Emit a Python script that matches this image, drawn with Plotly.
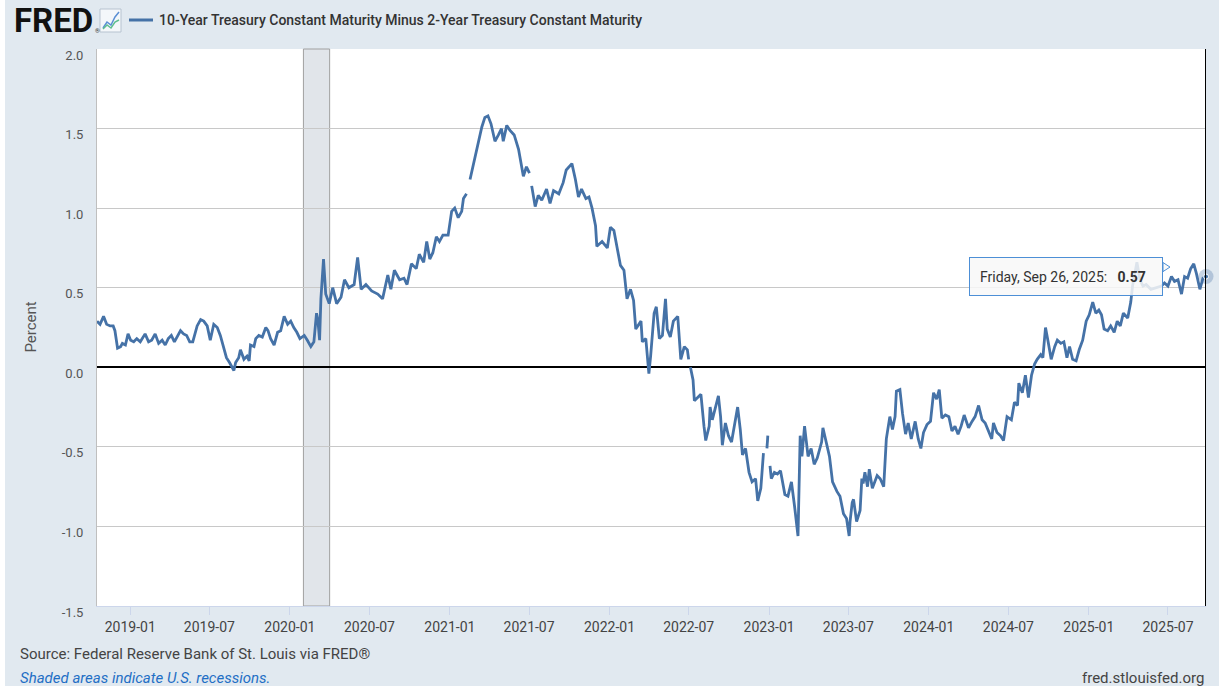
import pandas as pd
import plotly.graph_objects as go

# 10-Year minus 2-Year Treasury spread (T10Y2Y)
dates = [
    # 2018
    "2018-10-17", "2018-10-24", "2018-11-01", "2018-11-08", "2018-11-16", "2018-11-23", "2018-11-27",
    "2018-12-03", "2018-12-10", "2018-12-14", "2018-12-21", "2018-12-27",
    # 2019
    "2019-01-02", "2019-01-09", "2019-01-16", "2019-01-24", "2019-02-04", "2019-02-12", "2019-02-19",
    "2019-02-27", "2019-03-07", "2019-03-15", "2019-03-22", "2019-03-29", "2019-04-05", "2019-04-12",
    "2019-04-26", "2019-05-03", "2019-05-10", "2019-05-17", "2019-05-24", "2019-06-03", "2019-06-11",
    "2019-06-18", "2019-06-26", "2019-07-03", "2019-07-11", "2019-07-19", "2019-07-26", "2019-08-02",
    "2019-08-09", "2019-08-16", "2019-08-26", "2019-08-30", "2019-09-06", "2019-09-10", "2019-09-18",
    "2019-09-25", "2019-09-30", "2019-10-03", "2019-10-11", "2019-10-15", "2019-10-22", "2019-10-30",
    "2019-11-07", "2019-11-12", "2019-11-18", "2019-11-26", "2019-12-04", "2019-12-11", "2019-12-19",
    "2019-12-27",
    # 2020
    "2020-01-03", "2020-01-10", "2020-01-17", "2020-01-24", "2020-02-03", "2020-02-10", "2020-02-18",
    "2020-02-25", "2020-03-02", "2020-03-05", "2020-03-09", "2020-03-12", "2020-03-18", "2020-03-23",
    "2020-03-31", "2020-04-08", "2020-04-17", "2020-04-27", "2020-05-05", "2020-05-15", "2020-05-27",
    "2020-06-04", "2020-06-12", "2020-06-23", "2020-07-06", "2020-07-20", "2020-07-31", "2020-08-12",
    "2020-08-19", "2020-08-27", "2020-09-08", "2020-09-18", "2020-09-25", "2020-10-05", "2020-10-16",
    "2020-10-23", "2020-11-02", "2020-11-09", "2020-11-16", "2020-11-23", "2020-12-01", "2020-12-08",
    "2020-12-16", "2020-12-28",
    # 2021
    "2021-01-05", "2021-01-12", "2021-01-20", "2021-01-28", "2021-02-01", "2021-02-08", "2021-02-15",
    "2021-02-16", "2021-02-24", "2021-03-01", "2021-03-08", "2021-03-15", "2021-03-22", "2021-03-29",
    "2021-04-05", "2021-04-14", "2021-04-22", "2021-04-29", "2021-05-03", "2021-05-11", "2021-05-18",
    "2021-05-28", "2021-06-07", "2021-06-14", "2021-06-18", "2021-06-25", "2021-07-02", "2021-07-05",
    "2021-07-07", "2021-07-15", "2021-07-22", "2021-07-30", "2021-08-10", "2021-08-18", "2021-08-26",
    "2021-09-07", "2021-09-17", "2021-09-24", "2021-10-07", "2021-10-15", "2021-10-22", "2021-10-29",
    "2021-11-08", "2021-11-15", "2021-11-22", "2021-11-30", "2021-12-03", "2021-12-15", "2021-12-27",
    # 2022
    "2022-01-03", "2022-01-11", "2022-01-18", "2022-01-26", "2022-02-03", "2022-02-10", "2022-02-18",
    "2022-02-25", "2022-03-02", "2022-03-07", "2022-03-14", "2022-03-17", "2022-03-25", "2022-04-01",
    "2022-04-05", "2022-04-13", "2022-04-18", "2022-04-25", "2022-05-02", "2022-05-09", "2022-05-13",
    "2022-05-20", "2022-05-27", "2022-06-06", "2022-06-13", "2022-06-21", "2022-06-28", "2022-07-01",
    "2022-07-04", "2022-07-05", "2022-07-11", "2022-07-14", "2022-07-22", "2022-07-29", "2022-08-05",
    "2022-08-09", "2022-08-17", "2022-08-19", "2022-08-24", "2022-09-01", "2022-09-07", "2022-09-12",
    "2022-09-16", "2022-09-23", "2022-09-30", "2022-10-07", "2022-10-13", "2022-10-21", "2022-10-27",
    "2022-11-01", "2022-11-08", "2022-11-16", "2022-11-23", "2022-12-01", "2022-12-06", "2022-12-13",
    "2022-12-19", "2022-12-23", "2022-12-27", "2022-12-29",
    # 2023
    "2023-01-02", "2023-01-03", "2023-01-06", "2023-01-13", "2023-01-20", "2023-01-27", "2023-02-06",
    "2023-02-13", "2023-02-21", "2023-02-28", "2023-03-08", "2023-03-13", "2023-03-17", "2023-03-23",
    "2023-03-31", "2023-04-07", "2023-04-14", "2023-04-21", "2023-05-01", "2023-05-04", "2023-05-12",
    "2023-05-19", "2023-05-26", "2023-06-05", "2023-06-12", "2023-06-20", "2023-06-27", "2023-07-03",
    "2023-07-05", "2023-07-10", "2023-07-13", "2023-07-20", "2023-07-28", "2023-08-01", "2023-08-04",
    "2023-08-08", "2023-08-14", "2023-08-18", "2023-08-25", "2023-09-05", "2023-09-12", "2023-09-20",
    "2023-09-26", "2023-10-04", "2023-10-10", "2023-10-16", "2023-10-19", "2023-10-27", "2023-11-02",
    "2023-11-09", "2023-11-15", "2023-11-22", "2023-12-01", "2023-12-08", "2023-12-14", "2023-12-20",
    "2023-12-28",
    # 2024
    "2024-01-05", "2024-01-12", "2024-01-19", "2024-01-25", "2024-01-31", "2024-02-08", "2024-02-16",
    "2024-02-23", "2024-03-01", "2024-03-08", "2024-03-15", "2024-03-22", "2024-04-01", "2024-04-09",
    "2024-04-16", "2024-04-24", "2024-05-02", "2024-05-09", "2024-05-17", "2024-05-24", "2024-05-28",
    "2024-06-05", "2024-06-13", "2024-06-20", "2024-06-28", "2024-07-08", "2024-07-15", "2024-07-22",
    "2024-07-25", "2024-08-02", "2024-08-09", "2024-08-16", "2024-08-23", "2024-08-30", "2024-09-05",
    "2024-09-13", "2024-09-18", "2024-09-24", "2024-09-30", "2024-10-07", "2024-10-15", "2024-10-21",
    "2024-10-29", "2024-11-05", "2024-11-12", "2024-11-18", "2024-11-25", "2024-12-03", "2024-12-10",
    "2024-12-18", "2024-12-26",
    # 2025
    "2025-01-02", "2025-01-10", "2025-01-17", "2025-01-24", "2025-01-30", "2025-02-05", "2025-02-13",
    "2025-02-20", "2025-02-28", "2025-03-07", "2025-03-14", "2025-03-21", "2025-03-31", "2025-04-07",
    "2025-04-11", "2025-04-21", "2025-04-28", "2025-05-05", "2025-05-12", "2025-05-23", "2025-06-04",
    "2025-06-16", "2025-06-23", "2025-07-01", "2025-07-09", "2025-07-16", "2025-07-24", "2025-08-01",
    "2025-08-08", "2025-08-15", "2025-08-22", "2025-08-29", "2025-09-04", "2025-09-12", "2025-09-19",
    "2025-09-26",
]

spread = [
    # 2018
    0.29, 0.27, 0.32, 0.27, 0.26, 0.26, 0.23,
    0.12, 0.13, 0.15, 0.14, 0.21,
    # 2019
    0.17, 0.16, 0.18, 0.16, 0.21, 0.16, 0.17,
    0.21, 0.15, 0.17, 0.14, 0.18, 0.20, 0.16,
    0.23, 0.21, 0.20, 0.16, 0.16, 0.26, 0.30,
    0.29, 0.26, 0.17, 0.27, 0.25, 0.20, 0.12,
    0.06, 0.03, -0.02, 0.03, 0.06, 0.11, 0.05,
    0.07, 0.04, 0.14, 0.13, 0.18, 0.20, 0.19,
    0.25, 0.23, 0.18, 0.14, 0.22, 0.23, 0.32,
    0.27,
    # 2020
    0.29, 0.25, 0.22, 0.18, 0.20, 0.17, 0.13,
    0.16, 0.34, 0.30, 0.17, 0.43, 0.68, 0.46,
    0.40, 0.50, 0.40, 0.44, 0.55, 0.50, 0.52,
    0.69, 0.49, 0.52, 0.48, 0.46, 0.43, 0.58,
    0.49, 0.61, 0.55, 0.56, 0.52, 0.65, 0.62,
    0.71, 0.66, 0.79, 0.68, 0.72, 0.82, 0.79,
    0.83, 0.83,
    # 2021
    0.98, 1.00, 0.94, 0.98, 1.06, 1.09, None,
    1.18, 1.28, 1.35, 1.42, 1.51, 1.57, 1.58,
    1.53, 1.42, 1.46, 1.50, 1.42, 1.52, 1.49,
    1.46, 1.37, 1.27, 1.20, 1.26, 1.22, None,
    1.14, 1.01, 1.08, 1.05, 1.12, 1.03, 1.11,
    1.09, 1.16, 1.24, 1.28, 1.18, 1.07, 1.12,
    1.06, 1.07, 1.00, 0.89, 0.76, 0.79, 0.75,
    # 2022
    0.88, 0.86, 0.76, 0.64, 0.61, 0.43, 0.49,
    0.42, 0.24, 0.26, 0.29, 0.16, 0.18, -0.04,
    0.07, 0.34, 0.38, 0.18, 0.20, 0.43, 0.24,
    0.19, 0.29, 0.32, 0.05, 0.13, 0.11, 0.05,
    None, 0.00, -0.08, -0.21, -0.19, -0.17, -0.37,
    -0.46, -0.37, -0.25, -0.33, -0.24, -0.18, -0.31,
    -0.49, -0.35, -0.43, -0.47, -0.38, -0.25, -0.39,
    -0.55, -0.51, -0.66, -0.72, -0.70, -0.84, -0.76,
    -0.54, None, -0.51, -0.43,
    # 2023
    None, -0.62, -0.70, -0.66, -0.67, -0.65, -0.80,
    -0.81, -0.72, -0.87, -1.06, -0.43, -0.56, -0.37,
    -0.56, -0.51, -0.61, -0.57, -0.47, -0.38, -0.47,
    -0.56, -0.72, -0.78, -0.81, -0.92, -0.95, -1.06,
    -0.97, -0.85, -0.83, -0.97, -0.90, -0.70, -0.73,
    -0.66, -0.75, -0.64, -0.76, -0.68, -0.70, -0.75,
    -0.45, -0.31, -0.39, -0.31, -0.15, -0.14, -0.29,
    -0.42, -0.35, -0.45, -0.34, -0.45, -0.51, -0.41,
    -0.36,
    # 2024
    -0.34, -0.16, -0.20, -0.14, -0.32, -0.30, -0.31,
    -0.40, -0.37, -0.42, -0.37, -0.30, -0.38, -0.34,
    -0.31, -0.24, -0.33, -0.35, -0.40, -0.45, -0.35,
    -0.41, -0.43, -0.46, -0.31, -0.33, -0.22, -0.24,
    -0.10, -0.16, -0.05, -0.19, -0.05, 0.02, 0.05,
    0.08, 0.06, 0.25, 0.16, 0.05, 0.13, 0.17,
    0.15, 0.16, 0.06, 0.13, 0.05, 0.04, 0.11,
    0.17, 0.29,
    # 2025
    0.33, 0.41, 0.34, 0.36, 0.33, 0.24, 0.23,
    0.26, 0.22, 0.29, 0.26, 0.34, 0.31, 0.41,
    0.51, 0.66, 0.55, 0.51, 0.52, 0.49, 0.50,
    0.51, 0.53, 0.51, 0.57, 0.54, 0.55, 0.46,
    0.57, 0.56, 0.62, 0.65, 0.59, 0.49, 0.56,
    0.57,
]

x_range = ["2018-10-17", "2025-09-26"]
x_ticks = ["2019-01-01", "2019-07-01", "2020-01-01", "2020-07-01", "2021-01-01", "2021-07-01",
           "2022-01-01", "2022-07-01", "2023-01-01", "2023-07-01", "2024-01-01", "2024-07-01",
           "2025-01-01", "2025-07-01"]
x_labels = ["2019-01", "2019-07", "2020-01", "2020-07", "2021-01", "2021-07", "2022-01",
            "2022-07", "2023-01", "2023-07", "2024-01", "2024-07", "2025-01", "2025-07"]
y_ticks = [2.0, 1.5, 1.0, 0.5, 0.0, -0.5, -1.0, -1.5]
y_labels = ["2.0", "1.5", "1.0", "0.5", "0.0", "-0.5", "-1.0", "-1.5"]

# recession shading as FRED draws it (monthly USREC flags)
rec_start = "2020-02-01"
rec_end = "2020-04-01"

series_name = "10-Year Treasury Constant Maturity Minus 2-Year Treasury Constant Maturity"
line_color = "#4572a7"
tip_color = "#4d8fd6"

fig = go.Figure()

fig.add_trace(go.Scatter(
    x=dates, y=spread, mode="lines", connectgaps=False,
    line=dict(color=line_color, width=2.8), hoverinfo="skip",
))

# hovered point marker at the last observation
fig.add_trace(go.Scatter(
    x=[dates[-1]], y=[spread[-1]], mode="markers", cliponaxis=False,
    marker=dict(size=15, color="rgba(69,114,167,0.3)"), hoverinfo="skip",
))
fig.add_trace(go.Scatter(
    x=[dates[-1]], y=[spread[-1]], mode="markers", cliponaxis=False,
    marker=dict(size=5, color=line_color, line=dict(color="white", width=1)), hoverinfo="skip",
))

shapes = [
    dict(type="rect", xref="x", yref="paper", x0=rec_start, x1=rec_end, y0=0, y1=1,
         fillcolor="#e1e5ea", line=dict(color="#a0a0a0", width=1), layer="below"),
    # crosshair at the hovered date
    dict(type="line", xref="x", yref="paper", x0=dates[-1], x1=dates[-1], y0=0, y1=1,
         line=dict(color="black", width=2)),
    # tooltip pointer
    dict(type="path", xref="x", yref="y", xsizemode="pixel", ysizemode="pixel",
         xanchor=dates[-1], yanchor=spread[-1], path="M -43,14 L -36,9.5 L -43,5 Z",
         fillcolor="rgba(248,248,248,0.9)", line=dict(color=tip_color, width=1)),
    # small FRED graph icon
    dict(type="rect", xref="paper", yref="paper", xsizemode="pixel", ysizemode="pixel",
         xanchor=0, yanchor=1, x0=3, x1=24, y0=17, y1=40,
         fillcolor="#f4f7fa", line=dict(color="#b7c3d0", width=1)),
    dict(type="path", xref="paper", yref="paper", xsizemode="pixel", ysizemode="pixel",
         xanchor=0, yanchor=1, path="M 6,21 L 10,27 L 14,24 L 18,32 L 22,37",
         line=dict(color="#5b8fd4", width=1.5)),
    dict(type="path", xref="paper", yref="paper", xsizemode="pixel", ysizemode="pixel",
         xanchor=0, yanchor=1, path="M 6,20 L 10,24 L 14,21 L 18,27 L 22,29",
         line=dict(color="#5fbf8f", width=1.5)),
    # legend swatch
    dict(type="line", xref="paper", yref="paper", xsizemode="pixel", ysizemode="pixel",
         xanchor=0, yanchor=1, x0=32, x1=56, y0=29, y1=29,
         line=dict(color=line_color, width=3)),
]

hover_day = pd.Timestamp(dates[-1]).strftime("%A, %b %d, %Y")

annotations = [
    dict(text="<b>FRED</b>", xref="paper", yref="paper", x=0, y=1, xanchor="left", yanchor="middle",
         xshift=-85, yshift=29, showarrow=False, font=dict(size=33, color="#111")),
    dict(text="®", xref="paper", yref="paper", x=0, y=1, xanchor="left", yanchor="middle",
         xshift=-4, yshift=19, showarrow=False, font=dict(size=6, color="#333")),
    dict(text=series_name, xref="paper", yref="paper", x=0, y=1, xanchor="left", yanchor="middle",
         xshift=60, yshift=29, showarrow=False, font=dict(size=14, color="#333", weight=500)),
    dict(text="Percent", xref="paper", yref="paper", x=0, y=0.5, xanchor="center", yanchor="middle",
         xshift=-67, textangle=-90, showarrow=False, font=dict(size=15, color="#555")),
    dict(text="Source: Federal Reserve Bank of St. Louis via FRED®", xref="paper", yref="paper",
         x=0, y=0, xanchor="left", yanchor="middle", xshift=-79, yshift=-48, showarrow=False,
         font=dict(size=15, color="#444")),
    dict(text="<i>Shaded areas indicate U.S. recessions.</i>", xref="paper", yref="paper",
         x=0, y=0, xanchor="left", yanchor="middle", xshift=-79, yshift=-72, showarrow=False,
         font=dict(size=15, color="#1f6fc5")),
    dict(text="fred.stlouisfed.org", xref="paper", yref="paper", x=1, y=0, xanchor="right",
         yanchor="middle", xshift=0, yshift=-72, showarrow=False, font=dict(size=15, color="#444")),
    # tooltip
    dict(text=f"{hover_day}:\u00a0\u00a0 <b>{spread[-1]:.2f}</b>", xref="x", yref="y",
         x=dates[-1], y=spread[-1], xanchor="right", yanchor="middle", xshift=-43,
         width=172, height=17, align="left",
         showarrow=False, bgcolor="rgba(248,248,248,0.85)", bordercolor=tip_color,
         borderwidth=1, borderpad=10, font=dict(size=14, color="#333")),
]

fig.update_layout(
    width=1214, height=686,
    margin=dict(l=92, r=13, t=49, b=80),
    paper_bgcolor="#e1e9f0", plot_bgcolor="white",
    font=dict(family="Roboto", color="#333"),
    showlegend=False,
    shapes=shapes,
    annotations=annotations,
    xaxis=dict(
        type="date", range=x_range, tickvals=x_ticks, ticktext=x_labels,
        ticks="outside", ticklen=8, tickcolor="#ccd6eb", showgrid=False, zeroline=False,
        showline=True, linecolor="#ccd6eb", tickfont=dict(size=14, color="#444"),
    ),
    yaxis=dict(
        range=[-1.5, 2.0], tickvals=y_ticks, ticktext=y_labels,
        showgrid=True, gridcolor="#c8c8c8", gridwidth=1,
        zeroline=True, zerolinecolor="black", zerolinewidth=2,
        showline=True, linecolor="#bfbfbf", ticks="", ticklabelstandoff=10, ticklabelshift=6,
        tickfont=dict(size=13, color="#555"),
    ),
)

# page sits flush at the top with a thin white strip on the left, like the FRED screenshot
fig.write_html("out.html", post_script="document.body.style.margin = '0 0 0 5px';")
